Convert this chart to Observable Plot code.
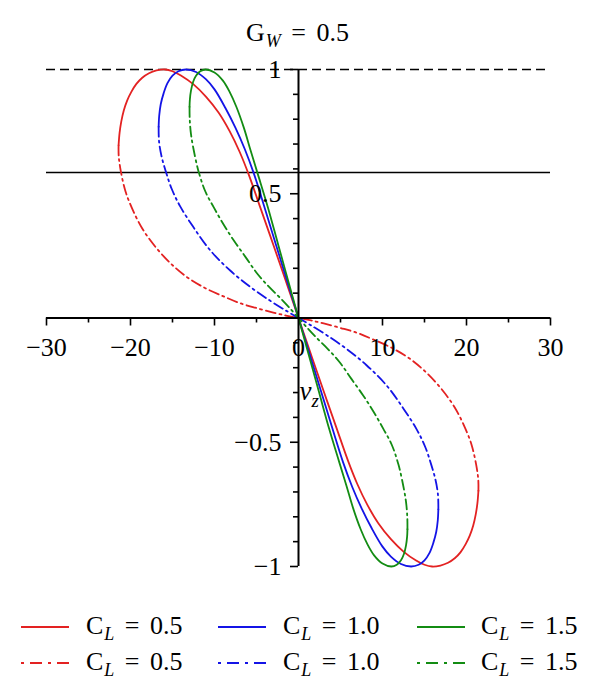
<!DOCTYPE html>
<html>
<head>
<meta charset="utf-8">
<script src="https://cdn.jsdelivr.net/npm/d3@7"></script>
<script src="https://cdn.jsdelivr.net/npm/@observablehq/plot@0.6"></script>
<style>
  html, body { margin: 0; padding: 0; background: #fff; }
  #wrap { position: relative; width: 600px; height: 699px; overflow: hidden;
          font-family: "Liberation Serif", "Times New Roman", serif; color: #000; }
  #wrap svg.chart { position: absolute; left: 0; top: 0; }
  .lbl { position: absolute; font-size: 26px; line-height: 26px; white-space: nowrap; word-spacing: 4px; }
  .lbl i.sub { font-size: 18px; line-height: 0; position: relative; top: 6px; font-style: italic; margin-left: 1px; }
  .swatch { position: absolute; }
</style>
</head>
<body>
<div id="wrap"></div>
<script>
// ---------- data ----------
const seriesLabels = ["0.5", "1.0", "1.5"];           // C_L values
const titleText = { main: "G", sub: "W", rest: " = 0.5" };

const xTickValues = [-30, -20, -10, 0, 10, 20, 30];
const xTickLabels = ["−30", "−20", "−10", "0", "10", "20", "30"];
const xMajorTicks = [-30, -20, -10, 10, 20, 30];
const xMinorTicks = [-25, -15, -5, 5, 15, 25];
const yTickValues = [1, 0.5, -0.5, -1];
const yTickLabels = ["1", "0.5", "−0.5", "−1"];
const yMinorTicks = [0.9, 0.8, 0.7, 0.6, 0.4, 0.3, 0.2, 0.1, -0.1, -0.2, -0.3, -0.4, -0.6, -0.7, -0.8, -0.9];
const refDashedY = [1];
const refSolidY = [0.586];
const axisLabelPos = [{ x: 0, y: -0.33, v: "v", s: "z" }];

// C_L = 0.5 (red)
const red_upper_solid = [[0,0],[-1.5,0.148],[-3.0,0.295],[-4.5,0.44],[-5.9,0.575],[-7.0,0.668],[-8.2,0.752],[-9.5,0.826],[-11.0,0.89],[-12.5,0.94],[-14.0,0.976],[-15.0,0.993],[-15.9,1.0],[-16.9,0.996],[-17.8,0.985],[-18.6,0.967],[-19.3,0.942],[-19.9,0.91],[-20.4,0.875],[-20.8,0.835],[-21.1,0.79],[-21.3,0.745],[-21.42,0.695]];
const red_upper_dash  = [[-21.42,0.695],[-21.4,0.65],[-21.15,0.59],[-20.6,0.51],[-19.8,0.44],[-18.6,0.36],[-17.0,0.285],[-15.2,0.219],[-13.3,0.165],[-11.2,0.122],[-9.0,0.088],[-7.0,0.06],[-5.0,0.04],[-3.0,0.022],[-1.5,0.01],[0,0]];
const red_lower_solid = [[0,0],[1.5,-0.148],[3.0,-0.295],[4.5,-0.44],[5.9,-0.575],[7.0,-0.668],[8.2,-0.752],[9.5,-0.826],[11.0,-0.89],[12.5,-0.94],[14.0,-0.976],[15.0,-0.993],[15.9,-1.0],[16.9,-0.996],[17.8,-0.985],[18.6,-0.967],[19.3,-0.942],[19.9,-0.91],[20.4,-0.875],[20.8,-0.835],[21.1,-0.79],[21.3,-0.745],[21.42,-0.695]];
const red_lower_dash  = [[21.42,-0.695],[21.4,-0.65],[21.15,-0.59],[20.6,-0.51],[19.8,-0.44],[18.6,-0.36],[17.0,-0.285],[15.2,-0.219],[13.3,-0.165],[11.2,-0.122],[9.0,-0.088],[7.0,-0.06],[5.0,-0.04],[3.0,-0.022],[1.5,-0.01],[0,0]];

// C_L = 1.0 (blue)
const blue_upper_solid = [[0,0],[-1.3,0.143],[-2.7,0.297],[-4.05,0.446],[-5.3,0.58],[-6.4,0.68],[-7.5,0.765],[-8.7,0.845],[-10.0,0.92],[-11.0,0.96],[-12.2,0.99],[-13.4,1.0],[-14.3,0.993],[-15.0,0.975],[-15.6,0.945],[-16.05,0.905],[-16.4,0.86],[-16.58,0.815],[-16.65,0.77]];
const blue_upper_dash  = [[-16.65,0.77],[-16.6,0.71],[-16.3,0.65],[-15.8,0.59],[-15.1,0.52],[-14.1,0.45],[-12.5,0.365],[-10.5,0.272],[-8.1,0.19],[-5.7,0.124],[-3.4,0.07],[-1.5,0.03],[0,0]];
const blue_lower_solid = [[0,0],[1.3,-0.143],[2.7,-0.297],[4.05,-0.446],[5.3,-0.58],[6.4,-0.68],[7.5,-0.765],[8.7,-0.845],[10.0,-0.92],[11.0,-0.96],[12.2,-0.99],[13.4,-1.0],[14.3,-0.993],[15.0,-0.975],[15.6,-0.945],[16.05,-0.905],[16.4,-0.86],[16.58,-0.815],[16.65,-0.77]];
const blue_lower_dash  = [[16.65,-0.77],[16.6,-0.71],[16.3,-0.65],[15.8,-0.59],[15.1,-0.52],[14.1,-0.45],[12.5,-0.365],[10.5,-0.272],[8.1,-0.19],[5.7,-0.124],[3.4,-0.07],[1.5,-0.03],[0,0]];

// C_L = 1.5 (green)
const green_upper_solid = [[0,0],[-1.2,0.146],[-2.4,0.293],[-3.65,0.446],[-4.85,0.58],[-5.7,0.674],[-6.5,0.765],[-7.4,0.85],[-8.2,0.91],[-9.0,0.955],[-10.0,0.988],[-11.05,1.0],[-11.7,0.993],[-12.2,0.975],[-12.55,0.95],[-12.8,0.915],[-12.93,0.88],[-12.97,0.85]];
const green_upper_dash  = [[-12.97,0.85],[-12.95,0.80],[-12.8,0.74],[-12.5,0.68],[-11.9,0.59],[-11.1,0.51],[-10.1,0.446],[-8.9,0.375],[-7.7,0.312],[-6.3,0.245],[-4.9,0.178],[-3.5,0.125],[-2.1,0.078],[-1.0,0.038],[0,0]];
const green_lower_solid = [[0,0],[1.2,-0.146],[2.4,-0.293],[3.65,-0.446],[4.85,-0.58],[5.7,-0.674],[6.5,-0.765],[7.4,-0.85],[8.2,-0.91],[9.0,-0.955],[10.0,-0.988],[11.05,-1.0],[11.7,-0.993],[12.2,-0.975],[12.55,-0.95],[12.8,-0.915],[12.93,-0.88],[12.97,-0.85]];
const green_lower_dash  = [[12.97,-0.85],[12.95,-0.80],[12.8,-0.74],[12.5,-0.68],[11.9,-0.59],[11.1,-0.51],[10.1,-0.446],[8.9,-0.375],[7.7,-0.312],[6.3,-0.245],[4.9,-0.178],[3.5,-0.125],[2.1,-0.078],[1.0,-0.038],[0,0]];

// ---------- styles ----------
const colors = ["#e32222", "#1414e6", "#138c13"];
const dashDot = "10,4,2,4";
const curves = [
  [red_upper_solid, 0, null], [red_upper_dash, 0, dashDot], [red_lower_solid, 0, null], [red_lower_dash, 0, dashDot],
  [blue_upper_solid, 1, null], [blue_upper_dash, 1, dashDot], [blue_lower_solid, 1, null], [blue_lower_dash, 1, dashDot],
  [green_upper_solid, 2, null], [green_upper_dash, 2, dashDot], [green_lower_solid, 2, null], [green_lower_dash, 2, dashDot]
];

const font = "'Liberation Serif', 'Times New Roman', serif";

const curveMarks = curves.map(([pts, ci, dash]) =>
  Plot.line(pts, {
    x: d => d[0], y: d => d[1],
    stroke: colors[ci], strokeWidth: 1.8,
    strokeDasharray: dash || undefined,
    curve: "catmull-rom"
  })
);

const chart = Plot.plot({
  width: 600, height: 600,
  marginTop: 69, marginBottom: 34, marginLeft: 46, marginRight: 50,
  x: { domain: [-30, 30], axis: null },
  y: { domain: [-1, 1], axis: null },
  style: { fontFamily: font, fontSize: "26px", background: "transparent", overflow: "visible" },
  marks: [
    Plot.ruleY(refDashedY, { y: d => d, stroke: "#000", strokeWidth: 1.5, strokeDasharray: "9,5" }),
    Plot.ruleY(refSolidY, { y: d => d, stroke: "#000", strokeWidth: 1.5 }),
    ...curveMarks,
    Plot.ruleY([0], { y: d => d, stroke: "#000", strokeWidth: 2 }),
    Plot.ruleX([0], { x: d => d, stroke: "#000", strokeWidth: 2 }),
    Plot.ruleX(xMajorTicks, { x: d => d, y1: 0, y2: 0, insetBottom: -8, stroke: "#000", strokeWidth: 1.6 }),
    Plot.ruleX(xMinorTicks, { x: d => d, y1: 0, y2: 0, insetBottom: -5, stroke: "#000", strokeWidth: 1.6 }),
    Plot.ruleY(yTickValues, { y: d => d, x1: 0, x2: 0, insetLeft: -8, stroke: "#000", strokeWidth: 1.6 }),
    Plot.ruleY(yMinorTicks, { y: d => d, x1: 0, x2: 0, insetLeft: -5, stroke: "#000", strokeWidth: 1.6 }),
    Plot.text(xTickValues, { x: d => d, y: 0, text: (d, i) => xTickLabels[i], dy: 30, fontSize: 26, fill: "#000" }),
    Plot.text(yTickValues, { x: 0, y: d => d, text: (d, i) => yTickLabels[i], dx: -17, textAnchor: "end", fontSize: 26, fill: "#000" }),
    Plot.text(axisLabelPos, { x: "x", y: "y", text: "v", textAnchor: "start", lineAnchor: "bottom", dx: 1, fontSize: 27, fontStyle: "italic", fill: "#000" }),
    Plot.text(axisLabelPos, { x: "x", y: "y", text: "s", textAnchor: "start", lineAnchor: "bottom", dx: 13, dy: 7, fontSize: 19, fontStyle: "italic", fill: "#000" })
  ]
});
chart.classList.add("chart");
const wrap = document.getElementById("wrap");
wrap.appendChild(chart);

// ---------- title ----------
const title = document.createElement("div");
title.className = "lbl";
title.style.left = "0px"; title.style.width = "595px"; title.style.textAlign = "center"; title.style.top = "20px";
title.innerHTML = `${titleText.main}<i class="sub">${titleText.sub}</i>${titleText.rest}`;
wrap.appendChild(title);

// ---------- legend ----------
const legendCols = [{ line: 21, text: 86 }, { line: 218, text: 283 }, { line: 417, text: 481 }];
const legendRows = [{ lineY: 627, textTop: 613, dash: null }, { lineY: 663, textTop: 649, dash: "3,6,12,6" }];
legendRows.forEach(row => {
  legendCols.forEach((col, ci) => {
    const sw = d3.create("svg").attr("class", "swatch").attr("width", 48).attr("height", 6)
      .style("left", col.line + "px").style("top", (row.lineY - 3) + "px");
    sw.append("line").attr("x1", 0).attr("x2", 48).attr("y1", 3).attr("y2", 3)
      .attr("stroke", colors[ci]).attr("stroke-width", 1.8)
      .attr("stroke-dasharray", row.dash);
    wrap.appendChild(sw.node());
    const t = document.createElement("div");
    t.className = "lbl";
    t.style.left = col.text + "px"; t.style.top = row.textTop + "px";
    t.innerHTML = `C<i class="sub">L</i> = ${seriesLabels[ci]}`;
    wrap.appendChild(t);
  });
});
</script>
</body>
</html>
